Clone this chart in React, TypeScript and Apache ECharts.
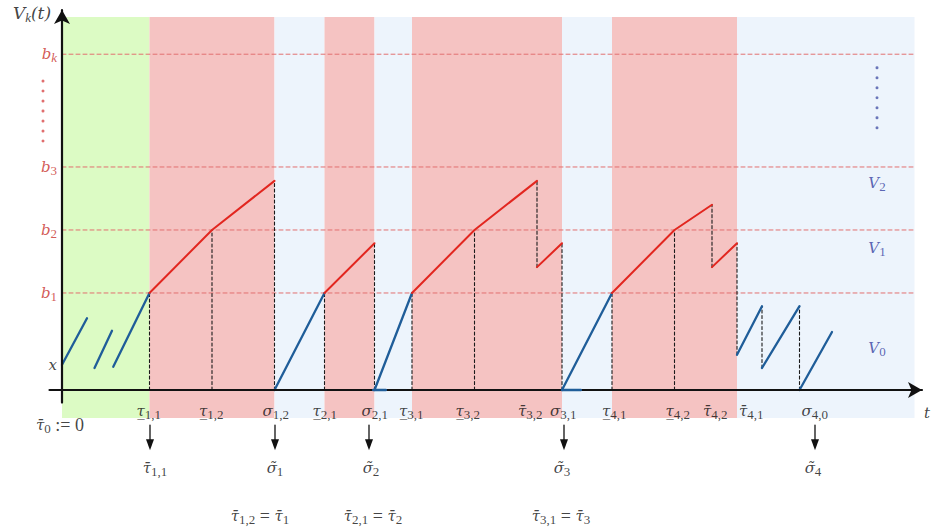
import React, { useEffect, useRef } from 'react';
import * as echarts from 'echarts';

// ---- values of the process V_k(t) ----
// threshold levels b1, b2, b3, bk and the start value x
const levelSubs = ['1', '2', '3', 'k'];
const levelValues = [1.54, 2.54, 3.54, 5.33];
const startValue = 0.4;

// regimes along the time axis
const phaseStart = [0, 3.5, 8.5, 10.5, 12.5, 14, 20, 22, 27];
const phaseEnd = [3.5, 8.5, 10.5, 12.5, 14, 20, 22, 27, 34.1];
const phaseKind = ['init', 'up', 'down', 'up', 'down', 'up', 'down', 'up', 'down'];

// path pieces (t, V): blue below b1, red above it
const bluePieces: number[][][] = [
  [[0, 0.4], [1.0, 1.14]],
  [[1.3, 0.35], [2.0, 0.94]],
  [[2.05, 0.37], [3.5, 1.54]],
  [[8.5, 0], [10.5, 1.54]],
  [[12.5, 0], [14, 1.54]],
  [[20, 0], [22, 1.54]],
  [[27, 0.56], [28, 1.33]],
  [[28, 0.35], [29.5, 1.33]],
  [[29.5, 0], [30.8, 0.92]],
];
const baselinePieces: number[][][] = [
  [[12.45, 0], [12.95, 0]],
  [[20, 0], [20.75, 0]],
];
const redPieces: number[][][] = [
  [[3.5, 1.54], [6, 2.54], [8.5, 3.32]],
  [[10.5, 1.54], [12.5, 2.33]],
  [[14, 1.54], [16.5, 2.54], [19, 3.32]],
  [[19, 1.95], [20, 2.33]],
  [[22, 1.54], [24.5, 2.54], [26, 2.94]],
  [[26, 1.95], [27, 2.33]],
];

// dashed drop lines at the stopping times
const dropT = [3.5, 6, 8.5, 10.5, 12.5, 14, 16.5, 19, 20, 22, 24.5, 26, 27, 28, 29.5];
const dropFrom = [0, 0, 0, 0, 0, 0, 0, 1.95, 0, 0, 0, 1.95, 0.56, 0.35, 0];
const dropTo = [1.54, 2.54, 3.32, 1.54, 2.33, 1.54, 2.54, 3.32, 2.33, 1.54, 2.54, 2.94, 2.33, 1.33, 1.33];

// vertical "and so on" dots: centre (t, V)
const dotsAt = [[-0.76, 4.43], [32.6, 4.64]];

// stopping-time labels under the t-axis
const UL = 'τ\u0332';
const OL = 'τ\u0304';
const SG = 'σ';
const TL = 'σ\u0303';
const tickT = [3.5, 6, 8.5, 10.5, 12.5, 14, 16.5, 19, 20, 22, 24.5, 26, 27, 29.5];
const tickSym = [UL, UL, SG, UL, SG, UL, UL, OL, SG, UL, UL, OL, OL, SG];
const tickSub = ['1,1', '1,2', '1,2', '2,1', '2,1', '3,1', '3,2', '3,2', '3,1', '4,1', '4,2', '4,2', '4,1', '4,0'];

// arrows to the derived times
const arrowT = [3.52, 8.52, 12.28, 20.08, 30.12];
const arrowSym = [OL, TL, TL, TL, TL];
const arrowSub = ['1,1', '1', '2', '3', '4'];

// identities written on the last row
const eqT = [7.92, 12.44, 19.96];
const eqLeftSub = ['1,2', '2,1', '3,1'];
const eqRightSub = ['1', '2', '3'];

// value-region names on the right
const regionSubs = ['2', '1', '0'];
const regionV = [3.29, 2.25, 0.67];

// ---- layout ----
const W = 934;
const H = 529;
const T0 = 62; // pixel of t = 0
const PX_T = 25;
const V0 = 390; // pixel of V = 0
const PX_V = 63;
const tMin = -0.5;
const tMax = 34.4;
const vMin = -0.2;
const vMax = 6.03;
const bgMin = -0.444;
const bgMax = 5.92;
const tickLabelDx = [-13, -13, -12, -12, -13, -13, -19, -19, -12, -10, -9, -9, 2, 2];
const arrowLabelDx = [5, 0, 2, -2, -2];

const MATH = "'DejaVu Serif', serif";
const ROMAN = "'Liberation Serif', 'DejaVu Serif', serif";
const BLUE = '#1f5d99';
const RED = '#e2261f';
const phaseColor: Record<string, string> = { init: '#dcfbc4', up: '#f5c3c2', down: '#edf4fc' };

// seven dots, 10px apart, drawn as one symbol
const DOT_COLUMN =
  'path://' +
  [0, 10, 20, 30, 40, 50, 60]
    .map((y) => `M0,${y + 1.5}a1.5,1.5 0 1,0 3,0a1.5,1.5 0 1,0 -3,0Z`)
    .join('');

const rich = (color: string) => ({
  m: { fontFamily: MATH, fontStyle: 'italic', fontSize: 15, lineHeight: 20, color },
  M: { fontFamily: MATH, fontStyle: 'italic', fontSize: 17, lineHeight: 22, color },
  s: { fontFamily: ROMAN, fontSize: 13, lineHeight: 10, verticalAlign: 'bottom', color },
  si: { fontFamily: ROMAN, fontStyle: 'italic', fontSize: 13, lineHeight: 10, verticalAlign: 'bottom', color },
  r: { fontFamily: ROMAN, fontSize: 18, lineHeight: 20, color },
});

const sub = (sym: string, s: string, style = 's') => `{m|${sym}}{${style}|${s}}`;

type Lbl = { t: number; v: number; text: string; color?: string; align?: string; dx?: number };

const labels: Lbl[] = [];
labels.push({ t: -1.2, v: 5.98, text: '{M|V}{si|k}{M|(t)}' });
levelValues.forEach((b, i) =>
  labels.push({ t: -0.2, v: b, text: sub('b', levelSubs[i], levelSubs[i] === 'k' ? 'si' : 's'), color: '#c8302c', align: 'right' })
);
labels.push({ t: -0.2, v: startValue, text: '{m|x}', align: 'right' });
labels.push({ t: -0.08, v: -0.556, text: `${sub(OL, '0')}{r| := 0}` });
tickT.forEach((t, i) => labels.push({ t, v: -0.34, text: sub(tickSym[i], tickSub[i]), align: 'left', dx: tickLabelDx[i] }));
arrowT.forEach((t, i) => labels.push({ t, v: -1.24, text: sub(arrowSym[i], arrowSub[i]), dx: arrowLabelDx[i] }));
eqT.forEach((t, i) => labels.push({ t, v: -2.0, text: `${sub(OL, eqLeftSub[i])}{r| = }${sub(OL, eqRightSub[i])}` }));
regionV.forEach((v, i) => labels.push({ t: 32.6, v, text: sub('V', regionSubs[i]), color: '#3440a0' }));
labels.push({ t: 34.6, v: -0.365, text: '{m|t}' });

const lineSeries = (data: any[], color: string, width: number, type: any = 'solid', z = 2) => ({
  type: 'line',
  xAxisIndex: 1,
  yAxisIndex: 1,
  data,
  symbol: 'none',
  showSymbol: false,
  clip: false,
  silent: true,
  z,
  lineStyle: { color, width, type, cap: 'round' },
});

function buildOption() {
  const series: any[] = [];

  // regime backgrounds
  series.push({
    type: 'line',
    xAxisIndex: 0,
    yAxisIndex: 0,
    data: [],
    silent: true,
    markArea: {
      silent: true,
      data: phaseStart.map((s, i) => [
        { xAxis: s, itemStyle: { color: phaseColor[phaseKind[i]] } },
        { xAxis: phaseEnd[i] },
      ]),
    },
  });

  // threshold levels
  levelValues.forEach((b) => series.push(lineSeries([[0, b], [34.15, b]], '#e27070', 1, [4, 3])));

  // drop lines
  dropT.forEach((t, i) => series.push(lineSeries([[t, dropFrom[i]], [t, dropTo[i]]], '#1a1a1a', 1.1, [3, 2.5])));

  // dotted continuation marks
  series.push({
    type: 'scatter',
    xAxisIndex: 1,
    yAxisIndex: 1,
    clip: false,
    silent: true,
    z: 3,
    symbol: DOT_COLUMN,
    symbolSize: [3, 63],
    data: [
      { value: dotsAt[0], itemStyle: { color: '#d84a4a' } },
      { value: dotsAt[1], itemStyle: { color: '#4a56a8' } },
    ],
  });

  // path
  bluePieces.forEach((p) => series.push(lineSeries(p, BLUE, 2.3)));
  baselinePieces.forEach((p) => series.push(lineSeries(p, BLUE, 2.6, 'solid', 4)));
  redPieces.forEach((p) => series.push(lineSeries(p, RED, 2)));

  // arrows under the axis
  arrowT.forEach((t) =>
    series.push({
      ...lineSeries(
        [
          { value: [t, -0.556], symbol: 'none' },
          { value: [t, -0.87], symbol: 'triangle', symbolRotate: 180, symbolSize: [8, 11] },
        ],
        '#111',
        1.3
      ),
      showSymbol: true,
      itemStyle: { color: '#111' },
    })
  );

  // text
  series.push({
    type: 'scatter',
    xAxisIndex: 1,
    yAxisIndex: 1,
    clip: false,
    silent: true,
    symbolSize: 0.1,
    itemStyle: { color: 'transparent' },
    z: 5,
    data: labels.map((l) => ({
      value: [l.t, l.v],
      label: {
        show: true,
        position: 'inside',
        formatter: l.text,
        align: l.align || 'center',
        verticalAlign: 'middle',
        offset: [l.dx || 0, 0],
        rich: rich(l.color || '#111'),
      },
    })),
  });

  const left = T0 + tMin * PX_T;
  const right = W - (T0 + tMax * PX_T);
  const hiddenX = (gridIndex: number) => ({
    type: 'value', gridIndex, min: tMin, max: tMax,
    axisLine: { show: false }, axisTick: { show: false }, axisLabel: { show: false }, splitLine: { show: false },
  });

  return {
    animation: false,
    backgroundColor: '#ffffff',
    grid: [
      { left, right, top: V0 - bgMax * PX_V, bottom: H - (V0 - bgMin * PX_V) },
      { left, right, top: V0 - vMax * PX_V, bottom: H - (V0 - vMin * PX_V) },
    ],
    xAxis: [
      hiddenX(0),
      {
        ...hiddenX(1),
        z: 3,
        axisLine: {
          show: true, onZero: true,
          lineStyle: { color: '#111', width: 2.2 },
          symbol: ['none', 'arrow'], symbolSize: [12, 14],
        },
      },
    ],
    yAxis: [
      {
        type: 'value', gridIndex: 0, min: bgMin, max: bgMax,
        axisLine: { show: false }, axisTick: { show: false }, axisLabel: { show: false }, splitLine: { show: false },
      },
      {
        type: 'value', gridIndex: 1, min: vMin, max: vMax, z: 3,
        axisLine: {
          show: true, onZero: true,
          lineStyle: { color: '#111', width: 2.2 },
          symbol: ['none', 'arrow'], symbolSize: [12, 14],
        },
        axisTick: { show: false }, axisLabel: { show: false }, splitLine: { show: false },
      },
    ],
    series,
  };
}

export default function App() {
  const ref = useRef<HTMLDivElement>(null);
  useEffect(() => {
    const chart = echarts.init(ref.current!, null, { renderer: 'svg' });
    chart.setOption(buildOption() as any);
    return () => chart.dispose();
  }, []);
  return (
    <div
      ref={ref}
      style={{ position: 'fixed', left: 0, top: 0, width: W, height: H, background: '#fff' }}
    />
  );
}
